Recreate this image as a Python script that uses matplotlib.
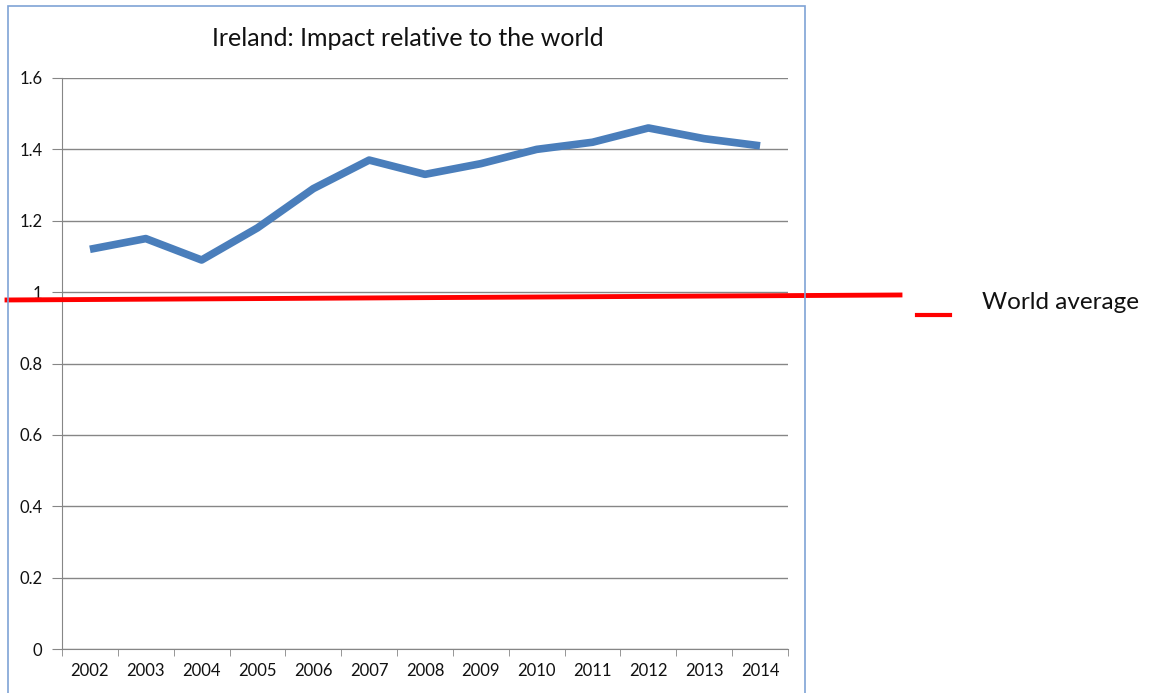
import matplotlib
matplotlib.use("Agg")
import matplotlib.pyplot as plt
from matplotlib.patches import Rectangle
from matplotlib.lines import Line2D

years = ["2002", "2003", "2004", "2005", "2006", "2007", "2008",
         "2009", "2010", "2011", "2012", "2013", "2014"]
impact = [1.12, 1.15, 1.09, 1.18, 1.29, 1.37, 1.33, 1.36, 1.40, 1.42, 1.46, 1.43, 1.41]
world_line = [0.978, 0.992]   # hand-drawn world average line (left end, right end)
yticks = [0, 0.2, 0.4, 0.6, 0.8, 1, 1.2, 1.4, 1.6]
ytick_labels = ["0", "0.2", "0.4", "0.6", "0.8", "1", "1.2", "1.4", "1.6"]

plt.rcParams['font.family'] = ['Lato', 'DejaVu Sans']

W, H = 1150, 693
fig = plt.figure(figsize=(W / 100, H / 100), dpi=100)

# chart frame
fig.patches.append(Rectangle((8 / W, -0.01), (805 - 8) / W, (H - 6) / H + 0.01,
                             transform=fig.transFigure, fill=False,
                             edgecolor="#7FA3D6", linewidth=1.2, zorder=0))

ax = fig.add_axes([62 / W, (H - 649) / H, (788 - 62) / W, (649 - 78) / H])
n = len(years)
x = [i + 0.5 for i in range(n)]
ax.plot(x, impact, color="#4A7EBB", linewidth=5.5, solid_capstyle="butt",
        solid_joinstyle="round", zorder=3)
ax.set_xlim(0, n)
ax.set_ylim(0, 1.6)

ax.set_yticks(yticks)
ax.set_yticklabels(ytick_labels)
ax.set_xticks(x)
ax.set_xticklabels(years)
ax.set_xticks(range(n + 1), minor=True)
ax.tick_params(axis="x", which="major", length=0, pad=10, labelsize=12, colors="#111111")
ax.tick_params(axis="x", which="minor", length=5, direction="out", color="#868686")
ax.tick_params(axis="y", length=7, direction="out", color="#868686", pad=7,
               labelsize=12, labelcolor="#111111")
ax.grid(axis="y", color="#868686", linewidth=1)
ax.set_axisbelow(True)
for s in ["top", "right"]:
    ax.spines[s].set_visible(False)
ax.spines["left"].set_color("#868686")
ax.spines["bottom"].set_color("#868686")

# world average hand-drawn line, in data y coordinates spanning beyond axes
x_left = ax.transData.inverted().transform(fig.transFigure.transform((7 / W, 0)))[0]
x_right = ax.transData.inverted().transform(fig.transFigure.transform((900 / W, 0)))[0]
ax.add_line(Line2D([x_left, x_right], world_line, color="#FF0000", linewidth=3.5,
                   clip_on=False, zorder=4))

fig.text(408 / W, 1 - 38 / H, "Ireland: Impact relative to the world",
         ha="center", va="center", fontsize=18, color="#111111")

# legend
fig.add_artist(Line2D([917 / W, 950 / W], [1 - 315 / H, 1 - 315 / H],
                      transform=fig.transFigure, color="#FF0000", linewidth=3))
fig.text(982 / W, 1 - 302 / H, "World average", ha="left", va="center",
         fontsize=17.5, color="#111111")

fig.savefig("out.png", dpi=100)
